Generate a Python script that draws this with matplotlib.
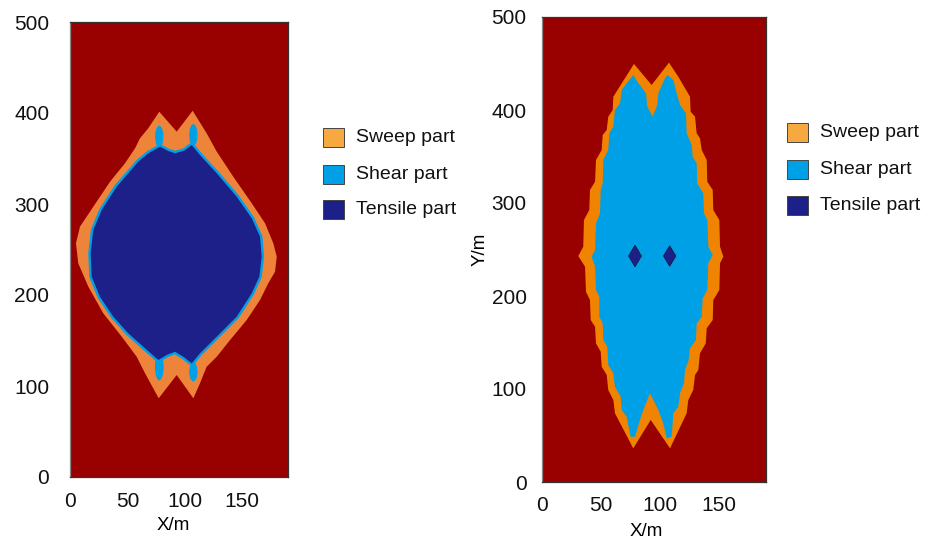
import matplotlib
matplotlib.use('Agg')
import matplotlib.pyplot as plt
from matplotlib.patches import Polygon, Ellipse, Rectangle

plt.rcParams['font.family'] = ['Liberation Sans', 'DejaVu Sans']

# ---------------- data ----------------
x_ticks = [0, 50, 100, 150]
y_ticks = [0, 100, 200, 300, 400, 500]
legend_labels = ['Sweep part', 'Shear part', 'Tensile part']

# Left panel: sweep (outer) boundary
left_sweep_x = [77.8, 93.0, 106.9, 119.1, 127.9, 142.3, 158.4, 170.0, 177.2, 180.2,
                178.7, 172.8, 165.6, 154.0, 139.5, 127.9, 119.1, 113.3, 107.5, 93.0,
                77.3, 65.4, 58.1, 45.1, 29.0, 16.0, 7.2, 5.2, 8.7, 20.3,
                34.9, 47.9, 56.7, 61.0, 68.2]
left_sweep_y = [401.4, 379.5, 402.5, 377.7, 357.5, 330.0, 300.8, 278.8, 256.8, 242.1,
                225.6, 212.9, 194.5, 172.5, 150.5, 132.2, 121.2, 103.0, 86.5, 112.1,
                86.5, 114.0, 132.2, 154.2, 179.9, 209.1, 234.8, 256.8, 275.1, 297.0,
                324.5, 344.7, 361.2, 372.2, 383.2]
# Left panel: tensile (core) boundary
left_tensile_x = [78.4, 85.7, 91.5, 99.4, 106.1, 113.3, 127.9, 145.3, 158.4, 165.6,
                  167.1, 165.0, 158.4, 145.3, 127.9, 113.3, 106.1, 98.8, 91.5, 84.3,
                  77.0, 65.4, 50.8, 37.7, 26.1, 18.9, 18.0, 20.3, 27.6, 40.7,
                  59.5, 68.2]
left_tensile_y = [363.0, 358.2, 355.7, 358.6, 364.8, 353.8, 333.7, 308.0, 284.3, 264.1,
                  242.1, 220.1, 201.9, 176.2, 154.2, 135.9, 124.9, 132.2, 137.7, 134.1,
                  128.6, 141.4, 157.9, 176.2, 198.1, 220.1, 245.8, 271.4, 293.4, 319.0,
                  346.5, 355.7]
# Left panel: shear lobes (centre x, centre y, width, height)
left_shear_lobe_x = [77.8, 107.5, 77.8, 107.5]
left_shear_lobe_y = [374.0, 375.8, 121.2, 115.6]
left_shear_lobe_w = [7.2, 7.2, 7.6, 7.2]
left_shear_lobe_h = [24.0, 24.0, 30.0, 21.0]

# Right panel: sweep (outer) boundary
right_sweep_x = [78.0, 93.0, 107.7, 115.6, 125.5, 126.1, 129.8, 131.2, 134.0, 135.5,
                 139.7, 140.2, 144.8, 145.3, 150.4, 151.0, 153.8, 151.0, 150.4, 145.3,
                 144.8, 139.7, 138.9, 134.0, 132.6, 129.8, 128.3, 124.1, 122.7, 108.6,
                 92.2, 77.4, 61.9, 60.5, 56.2, 54.9, 50.6, 49.8, 45.8, 45.0,
                 41.3, 40.7, 37.3, 36.5, 30.8, 35.0, 35.6, 40.1, 40.7, 45.0,
                 45.8, 50.6, 51.5, 54.9, 56.2, 60.0, 60.5]
right_sweep_y = [449.5, 426.9, 450.9, 435.8, 414.3, 398.2, 392.8, 375.0, 369.6, 357.0,
                 346.2, 322.9, 314.0, 292.5, 281.7, 253.0, 242.3, 235.2, 206.5, 195.7,
                 174.2, 165.3, 149.1, 138.4, 120.4, 115.1, 98.9, 88.2, 73.9, 36.2,
                 66.7, 36.2, 73.9, 88.2, 98.9, 115.1, 124.0, 140.1, 149.1, 167.0,
                 174.2, 195.7, 204.6, 231.5, 243.0, 253.0, 281.7, 292.5, 314.0, 322.9,
                 346.2, 357.0, 373.1, 378.5, 392.8, 400.0, 414.3]
# Right panel: shear boundary
right_shear_x = [77.5, 80.8, 88.2, 89.3, 93.9, 97.8, 98.7, 104.3, 106.3, 111.4,
                 114.2, 117.1, 122.1, 122.7, 127.0, 127.8, 131.2, 131.7, 136.8, 137.4,
                 140.2, 141.1, 144.8, 141.1, 140.2, 136.3, 135.5, 131.2, 130.6, 125.5,
                 124.4, 121.3, 120.4, 117.1, 115.6, 111.4, 110.0, 105.8, 102.9, 98.7,
                 91.6, 85.9, 83.1, 78.9, 75.2, 71.8, 67.6, 66.8, 61.9, 60.5,
                 56.2, 55.4, 52.0, 51.5, 48.6, 48.6, 45.8, 45.0, 42.2, 45.0,
                 45.8, 49.2, 49.8, 51.5, 52.0, 56.2, 57.1, 60.5, 61.9, 66.2,
                 67.6, 71.8]
right_shear_y = [437.6, 430.5, 417.9, 403.6, 392.8, 405.4, 417.9, 434.1, 437.6, 432.3,
                 417.9, 405.4, 396.4, 374.9, 362.4, 349.8, 342.7, 321.2, 310.4, 288.9,
                 281.7, 253.0, 244.1, 235.2, 206.5, 197.5, 177.7, 170.6, 152.7, 143.8,
                 131.2, 120.4, 106.1, 95.4, 81.0, 73.9, 48.7, 47.0, 63.1, 77.4,
                 95.4, 77.4, 66.7, 48.7, 48.7, 70.2, 77.4, 91.7, 102.5, 116.9,
                 125.8, 145.5, 152.7, 170.6, 177.7, 199.3, 206.5, 231.5, 242.3, 249.5,
                 278.2, 288.9, 314.0, 321.2, 346.2, 357.0, 374.9, 382.1, 400.0, 407.2,
                 421.5, 428.7]
# Right panel: tensile spots (centre x, centre y, half width, half height)
right_tensile_x = [78.9, 108.3]
right_tensile_y = [243.0, 243.0]
right_tensile_hw = [5.4, 5.2]
right_tensile_hh = [11.6, 11.0]

# ---------------- style ----------------
BG = '#990000'
NAVY = '#1d2088'
BLUE = '#00a0e6'
ORANGE_L = '#ee843a'
ORANGE_R = '#f08400'
LEG_ORANGE = '#f5a93f'
XMAX = 190

W, H = 935, 539
fig = plt.figure(figsize=(W / 100, H / 100), dpi=100)


def px_axes(x0, y0, x1, y1):
    return fig.add_axes([x0 / W, 1 - y1 / H, (x1 - x0) / W, (y1 - y0) / H])


def style_axes(ax):
    ax.set_facecolor(BG)
    ax.set_xlim(0, XMAX)
    ax.set_ylim(0, 500)
    ax.set_xticks(x_ticks)
    ax.set_yticks(y_ticks)
    ax.tick_params(length=0, labelsize=15, colors='#111111')
    for s in ax.spines.values():
        s.set_color('#333333')
        s.set_linewidth(0.9)
    ax.spines['left'].set_color('#888888')


# Left panel
ax1 = px_axes(70, 22, 288, 477)
style_axes(ax1)
ax1.tick_params(axis='x', pad=11)
ax1.tick_params(axis='y', pad=15)
ax1.add_patch(Polygon(list(zip(left_sweep_x, left_sweep_y)), closed=True,
                      facecolor=ORANGE_L, edgecolor='none'))
for cx, cy, w, h in zip(left_shear_lobe_x, left_shear_lobe_y, left_shear_lobe_w, left_shear_lobe_h):
    ax1.add_patch(Ellipse((cx, cy), w, h, facecolor=BLUE, edgecolor='none'))
ax1.add_patch(Polygon(list(zip(left_tensile_x, left_tensile_y)), closed=True,
                      facecolor=BLUE, edgecolor=BLUE, linewidth=3.5, joinstyle='round'))
ax1.add_patch(Polygon(list(zip(left_tensile_x, left_tensile_y)), closed=True,
                      facecolor=NAVY, edgecolor='none'))
ax1.set_xlabel('X/m', fontsize=13.5)
ax1.xaxis.set_label_coords(0.472, -0.088)

# Right panel
ax2 = px_axes(542, 17, 766, 482)
style_axes(ax2)
ax2.tick_params(axis='x', pad=10)
ax2.tick_params(axis='y', pad=11)
ax2.add_patch(Polygon(list(zip(right_sweep_x, right_sweep_y)), closed=True,
                      facecolor=ORANGE_R, edgecolor='none'))
ax2.add_patch(Polygon(list(zip(right_shear_x, right_shear_y)), closed=True,
                      facecolor=BLUE, edgecolor='none'))
for cx, cy, hw, hh in zip(right_tensile_x, right_tensile_y, right_tensile_hw, right_tensile_hh):
    ax2.add_patch(Polygon([(cx - hw, cy), (cx, cy + hh), (cx + hw, cy), (cx, cy - hh)],
                          closed=True, facecolor=NAVY, edgecolor='#1a1a40', linewidth=0.6))
ax2.set_xlabel('X/m', fontsize=13.5)
ax2.xaxis.set_label_coords(0.467, -0.088)
ax2.set_ylabel('Y/m', fontsize=13.5)
ax2.yaxis.set_label_coords(-0.238, 0.5)

# Legends (figure pixel layout)
leg_colors = [LEG_ORANGE, BLUE, NAVY]


def draw_legend(x0, tops, tx):
    for top, col, lab in zip(tops, leg_colors, legend_labels):
        hgt = 18.5
        fig.add_artist(Rectangle((x0 / W, 1 - (top + hgt) / H), 21.5 / W, hgt / H,
                                 transform=fig.transFigure, facecolor=col,
                                 edgecolor='#444444', linewidth=0.7))
        fig.text(tx / W, 1 - (top + hgt / 2) / H, lab, fontsize=14,
                 va='center', ha='left', color='#111111')


draw_legend(322.7, [128.3, 165.0, 200.0], 356)
draw_legend(786.7, [123.3, 160.0, 196.2], 820)

fig.savefig('out.png', dpi=100)
